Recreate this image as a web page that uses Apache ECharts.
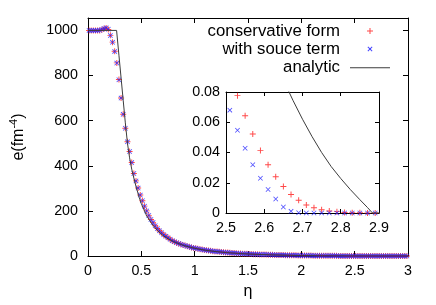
<!DOCTYPE html>
<html>
<head>
<meta charset="utf-8">
<script src="https://cdn.jsdelivr.net/npm/echarts@6/dist/echarts.min.js"></script>
<style>html,body{margin:0;padding:0;background:#fff}#c{width:436px;height:305px}</style>
</head>
<body>
<div id="c"></div>
<script>
// eta grid of the numerical solutions
const eta = [
0.01,0.03,0.05,0.07,0.09,0.11,0.13,0.15,0.17,0.19,
0.21,0.23,0.25,0.27,0.29,0.31,0.33,0.35,0.37,0.39,
0.41,0.43,0.45,0.47,0.49,0.51,0.53,0.55,0.57,0.59,
0.61,0.63,0.65,0.67,0.69,0.71,0.73,0.75,0.77,0.79,
0.81,0.83,0.85,0.87,0.89,0.91,0.93,0.95,0.97,0.99,
1.01,1.03,1.05,1.07,1.09,1.11,1.13,1.15,1.17,1.19,
1.21,1.23,1.25,1.27,1.29,1.31,1.33,1.35,1.37,1.39,
1.41,1.43,1.45,1.47,1.49,1.51,1.53,1.55,1.57,1.59,
1.61,1.63,1.65,1.67,1.69,1.71,1.73,1.75,1.77,1.79,
1.81,1.83,1.85,1.87,1.89,1.91,1.93,1.95,1.97,1.99,
2.01,2.03,2.05,2.07,2.09,2.11,2.13,2.15,2.17,2.19,
2.21,2.23,2.25,2.27,2.29,2.31,2.33,2.35,2.37,2.39,
2.41,2.43,2.45,2.47,2.49,2.51,2.53,2.55,2.57,2.59,
2.61,2.63,2.65,2.67,2.69,2.71,2.73,2.75,2.77,2.79,
2.81,2.83,2.85,2.87,2.89,2.91,2.93,2.95,2.97,2.99];

// conservative form
const consE = [
1000,1000,1000,1000,1000,1000,1003,1007,1011,1004,
978,948,908,856,782,700,628,566,506,463,
414,366,333,301,270,245,221,200,180,162,
148,134,122,112,103,94,87,81,74,68,
63,59,55,52,49,46,43,40.5,38,36,
34,32,30,28.5,27,25.5,24,22.8,21.6,20.5,
19.4,18.4,17.5,16.6,15.8,15,14.3,13.6,12.9,12.2,
11.6,11,10.5,10,9.5,9,8.6,8.2,7.8,7.4,
7,6.7,6.4,6.1,5.8,5.5,5.2,4.9,4.7,4.4,
4.2,4,3.8,3.6,3.4,3.2,3,2.8,2.65,2.5,
2.35,2.2,2.05,1.9,1.75,1.6,1.5,1.4,1.3,1.2,
1.1,1.0,0.9,0.82,0.74,0.66,0.58,0.5,0.43,0.37,
0.31,0.26,0.21,0.165,0.13,0.100,0.0776,0.0643,0.0523,0.0414,
0.0319,0.0239,0.0175,0.0122,0.0084,0.0053,0.0035,0.0022,0.0013,0.0009,
0.0004,0.0002,0.0001,0,0,0,0,0,0,0];

// with source term
const srcE = [
1000,1000,1000,1000,1000,1001,1004,1008,1012,1005,
977,947,907,855,781,700,628,566,506,463,
414,366,333,301,270,245,221,200,180,162,
148,134,122,112,103,94,87,81,74,68,
63,59,55,52,49,46,43,40.5,38,36,
34,32,30,28.5,27,25.5,24,22.8,21.6,20.5,
19.4,18.4,17.5,16.6,15.8,15,14.3,13.6,12.9,12.2,
11.6,11,10.5,10,9.5,9,8.6,8.2,7.8,7.4,
7,6.7,6.4,6.1,5.8,5.5,5.2,4.9,4.7,4.4,
4.2,4,3.8,3.6,3.4,3.2,3,2.8,2.65,2.5,
2.35,2.2,2.05,1.9,1.75,1.6,1.5,1.4,1.3,1.2,
1.1,1.0,0.9,0.82,0.74,0.66,0.58,0.5,0.43,0.37,
0.27,0.22,0.17,0.125,0.092,0.068,0.0547,0.0428,0.0319,0.0230,
0.0155,0.0093,0.0040,0.0011,0.0002,0,0,0,0,0,
0,0,0,0,0,0,0,0,0,0];

// analytic solution
const anaEta = [0,0.268,0.29,0.31,0.33,0.35,0.37,0.39,0.41,0.43,0.45,0.48,0.5,0.55,0.6,0.65,0.7,0.75,0.8,0.9,
1.0,1.1,1.2,1.3,1.4,1.5,1.6,1.7,1.8,1.9,2.0,2.1,2.2,2.3,2.4,2.5,2.55,2.6,
2.65,2.675,2.7,2.725,2.75,2.775,2.8,2.825,2.85,2.87,2.883,3.0];
const anaE = [1000,1000,890,790,690,590,500,435,385,345,308,260,232,178,142,113,92,76,64,46,
34,25.5,19.5,15,11.5,8.8,6.8,5.2,3.9,2.9,2.1,1.5,1.0,0.65,0.4,0.22,0.165,0.122,
0.088,0.0745,0.062,0.0505,0.040,0.0307,0.0228,0.0155,0.0088,0.0036,0,0];

const mainXTicks = [0, 3, 0.5];      // min, max, interval
const mainYTicks = [0, 1055, 200];
const insetXTicks = [2.5, 2.9, 0.1];
const insetYTicks = [0, 0.08, 0.02];

const names = ['conservative form', 'with souce term', 'analytic'];

const zip = (xs, ys) => xs.map((x, i) => [x, ys[i]]);
const FONT = '"Liberation Sans", Arial, sans-serif';
const PLUS = 'path://M0,4.2H10V5.8H0Z M4.2,0H5.8V10H4.2Z';
const CROSS = 'path://M0,1.1L1.1,0L10,8.9L8.9,10Z M8.9,0L10,1.1L1.1,10L0,8.9Z';
// legend samples spanning the full 45px key box
const ANCH = 'M0,3.45h0.01v0.1h-0.01Z M45,3.45h0.01v0.1h-0.01Z ';
const PLUS_KEY = 'path://' + ANCH + 'M22,3H28V4H22Z M24.5,0.5H25.5V6.5H24.5Z';
const CROSS_KEY = 'path://' + ANCH + 'M22.5,1.2L23.2,0.5L27.5,4.8L26.8,5.5Z M26.8,0.5L27.5,1.2L23.2,5.5L22.5,4.8Z';
const LINE_KEY = 'path://' + ANCH + 'M5,3H45V4H5Z';
const keyIcons = [PLUS_KEY, CROSS_KEY, LINE_KEY];
const RED = '#ff1a1a', BLUE = '#1a1aff', LINE = '#3c3c3c';

function axis(base, extra) { return Object.assign({
  type: 'value', min: base[0], max: base[1], interval: base[2],
  axisLine: {show: true, onZero: false, lineStyle: {color: '#000', width: 1}},
  axisTick: {show: true, inside: true, length: 5, lineStyle: {color: '#000'}},
  splitLine: {show: false},
  axisLabel: {show: false},
}, extra); }
const smallTick = {show: true, inside: true, length: 4, lineStyle: {color: '#000'}};

const chart = echarts.init(document.getElementById('c'), null, {renderer: 'canvas'});
chart.setOption({
  animation: false,
  backgroundColor: '#fff',
  textStyle: {fontFamily: FONT, color: '#000'},
  grid: [
    {left: 83, right: 28, top: 18, bottom: 49},
    {left: 226, right: 57, top: 92, bottom: 92, show: true, backgroundColor: '#fff', borderWidth: 0}
  ],
  xAxis: [
    axis(mainXTicks, {gridIndex: 0, position: 'bottom', name: 'η', nameLocation: 'middle', nameGap: 28,
      nameTextStyle: {fontSize: 16, fontFamily: FONT, color: '#000'},
      axisLabel: {show: true, margin: 8, fontSize: 14.3, fontFamily: FONT, color: '#000', formatter: v => String(v)}}),
    axis(mainXTicks, {gridIndex: 0, position: 'top'}),
    axis(insetXTicks, {gridIndex: 1, position: 'bottom', axisTick: smallTick,
      axisLabel: {show: true, margin: 8, fontSize: 14.3, fontFamily: FONT, color: '#000', formatter: v => v.toFixed(1)}}),
    axis(insetXTicks, {gridIndex: 1, position: 'top', axisTick: smallTick})
  ],
  yAxis: [
    axis(mainYTicks, {gridIndex: 0, position: 'left', name: '{n|e(fm}{s|-4}{n|)}', nameLocation: 'middle', nameGap: 58,
      nameTextStyle: {fontFamily: FONT, color: '#000', rich: {
        n: {fontSize: 16, fontFamily: FONT, color: '#000', lineHeight: 22},
        s: {fontSize: 11, fontFamily: FONT, color: '#000', verticalAlign: 'top', lineHeight: 22}}},
      axisLabel: {show: true, margin: 10, fontSize: 14.3, fontFamily: FONT, color: '#000', showMaxLabel: false,
        formatter: v => (v % 200 === 0 ? String(v) : '')}}),
    axis(mainYTicks, {gridIndex: 0, position: 'right'}),
    axis(insetYTicks, {gridIndex: 1, position: 'left', axisTick: smallTick,
      axisLabel: {show: true, margin: 6, fontSize: 14.3, fontFamily: FONT, color: '#000',
        formatter: v => (v === 0 ? '0' : v.toFixed(2))}}),
    axis(insetYTicks, {gridIndex: 1, position: 'right', axisTick: smallTick})
  ],
  legend: names.map((nm, i) => ({
    data: [{name: nm, icon: keyIcons[i]}], orient: 'vertical', align: 'right', right: 46, top: [22.5, 40.5, 59.2][i],
    itemWidth: 45, itemHeight: 7, padding: 0, selectedMode: false,
    textStyle: {fontSize: 16.8, fontFamily: FONT, color: '#000'}
  })),
  series: [
    {name: names[0], type: 'scatter', xAxisIndex: 0, yAxisIndex: 0, data: zip(eta, consE),
      symbol: PLUS, symbolSize: 6, itemStyle: {color: RED}, clip: true},
    {name: names[1], type: 'scatter', xAxisIndex: 0, yAxisIndex: 0, data: zip(eta, srcE),
      symbol: CROSS, symbolSize: 5, itemStyle: {color: BLUE}, clip: true},
    {name: names[2], type: 'line', xAxisIndex: 0, yAxisIndex: 0, data: zip(anaEta, anaE),
      symbol: 'none', showSymbol: false, lineStyle: {color: LINE, width: 1}, itemStyle: {color: LINE}, clip: true},
    {name: names[0], type: 'scatter', xAxisIndex: 2, yAxisIndex: 2, data: zip(eta, consE),
      symbol: PLUS, symbolSize: 6, itemStyle: {color: RED}, clip: true},
    {name: names[1], type: 'scatter', xAxisIndex: 2, yAxisIndex: 2, data: zip(eta, srcE),
      symbol: CROSS, symbolSize: 5, itemStyle: {color: BLUE}, clip: true},
    {name: names[2], type: 'line', xAxisIndex: 2, yAxisIndex: 2, data: zip(anaEta, anaE),
      symbol: 'none', showSymbol: false, lineStyle: {color: LINE, width: 1}, itemStyle: {color: LINE}, clip: true}
  ]
});
</script>
</body>
</html>
